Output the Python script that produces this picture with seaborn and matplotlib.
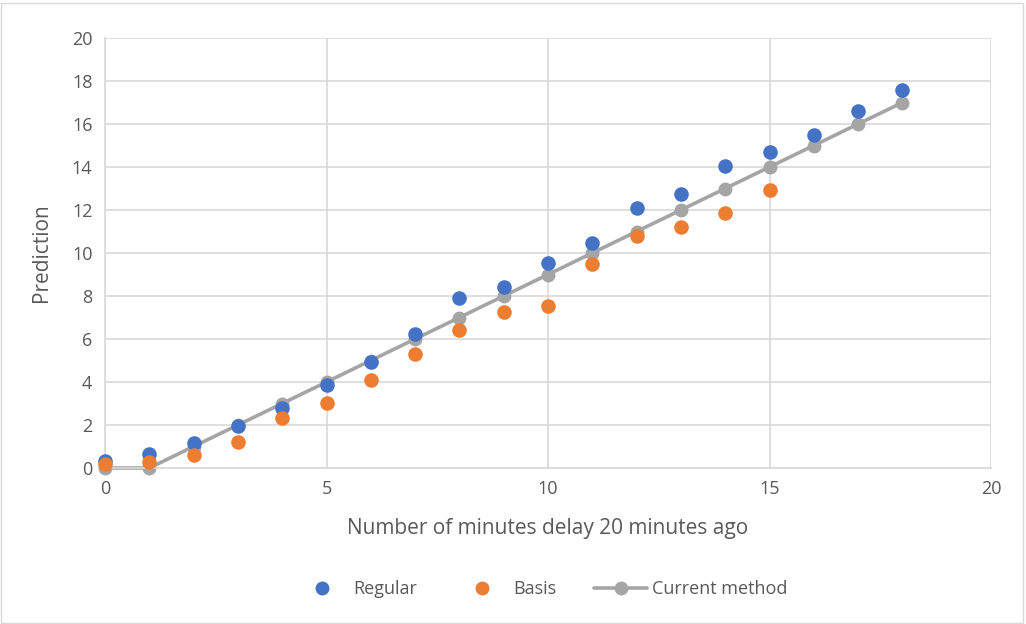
import numpy as np
import pandas as pd
import seaborn as sns
import matplotlib.pyplot as plt
from matplotlib.lines import Line2D
from matplotlib.patches import Rectangle

# Data
x_regular = list(range(0, 19))
regular = [0.33, 0.64, 1.15, 1.95, 2.8, 3.88, 4.95, 6.22, 7.9, 8.43, 9.52,
           10.45, 12.08, 12.73, 14.05, 14.68, 15.49, 16.62, 17.58]
x_basis = list(range(0, 16))
basis = [0.2, 0.3, 0.6, 1.22, 2.33, 3.02, 4.07, 5.3, 6.4, 7.25, 7.55,
         9.5, 10.8, 11.23, 11.88, 12.93]
x_current = list(range(0, 19))
current = [0, 0, 1, 2, 3, 4, 5, 6, 7, 8, 9, 10, 11, 12, 13, 14, 15, 16, 17]

x_ticks = [0, 5, 10, 15, 20]
y_ticks = [0, 2, 4, 6, 8, 10, 12, 14, 16, 18, 20]

C_BLUE = "#4472C4"
C_ORANGE = "#ED7D31"
C_GRAY = "#A5A5A5"
TXT = "#595959"

sns.set_theme(style="white")
plt.rcParams['font.family'] = ['Open Sans', 'DejaVu Sans']

fig = plt.figure(figsize=(10.26, 6.24), dpi=100)
ax = fig.add_axes([105/1026, 1-468/624, (991-105)/1026, (468-38)/624])

df_reg = pd.DataFrame({"x": x_regular, "y": regular})
df_bas = pd.DataFrame({"x": x_basis, "y": basis})
df_cur = pd.DataFrame({"x": x_current, "y": current})

sns.lineplot(data=df_cur, x="x", y="y", ax=ax, color=C_GRAY, linewidth=2.6,
             marker="o", markersize=10, markeredgewidth=0, zorder=2)
sns.scatterplot(data=df_reg, x="x", y="y", ax=ax, color=C_BLUE, s=110,
                linewidth=0, zorder=3)
sns.scatterplot(data=df_bas, x="x", y="y", ax=ax, color=C_ORANGE, s=110,
                linewidth=0, zorder=4)
for art in list(ax.lines) + list(ax.collections):
    art.set_clip_on(False)

ax.set_xlim(0, 20)
ax.set_ylim(0, 20)
ax.set_xticks(x_ticks)
ax.set_yticks(y_ticks)
ax.grid(True, color="#D9D9D9", linewidth=1.2)
ax.set_axisbelow(True)
for s in ["top", "right"]:
    ax.spines[s].set_visible(False)
for s in ["left", "bottom"]:
    ax.spines[s].set_color("#D9D9D9")
    ax.spines[s].set_linewidth(1.2)
ax.tick_params(axis="both", length=0, labelsize=13, labelcolor=TXT, pad=9)
ax.set_xlabel("Number of minutes delay 20 minutes ago", fontsize=15, color=TXT, labelpad=14)
ax.set_ylabel("Prediction", fontsize=15, color=TXT, labelpad=14)

handles = [
    Line2D([], [], linestyle="none", marker="o", markersize=10, color=C_BLUE, markeredgewidth=0),
    Line2D([], [], linestyle="none", marker="o", markersize=10, color=C_ORANGE, markeredgewidth=0),
    Line2D([], [], linestyle="-", linewidth=2.6, marker="o", markersize=10, color=C_GRAY, markeredgewidth=0),
]
leg = fig.legend(handles, ["Regular", "Basis", "Current method"], loc="center",
                 bbox_to_anchor=(0.528, 1-589/624), ncol=3, frameon=False,
                 fontsize=13, handlelength=2.9, columnspacing=2.1, handletextpad=0.3)
for t in leg.get_texts():
    t.set_color(TXT)

fig.patches.append(Rectangle((1/1026, 1/624), 1022/1026, 620/624, transform=fig.transFigure,
                             fill=False, edgecolor="#D9D9D9", linewidth=1))

fig.savefig("out.png", dpi=100)
